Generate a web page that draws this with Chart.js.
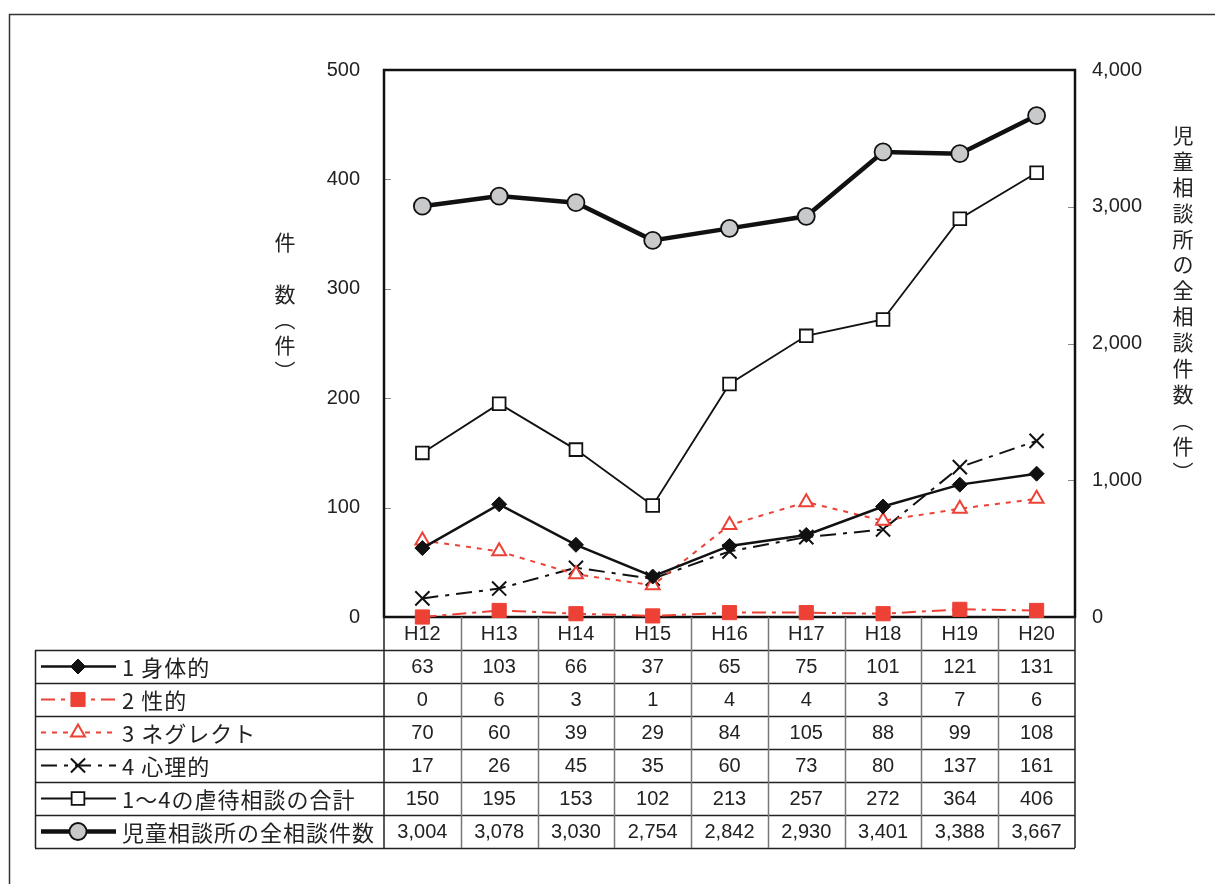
<!DOCTYPE html>
<html>
<head>
<meta charset="utf-8">
<script src="https://cdn.jsdelivr.net/npm/chart.js@4"></script>
<style>
  body { margin: 0; background: #fff; }
</style>
</head>
<body>
<canvas id="abuseChart" width="1215" height="884"></canvas>
<script>
const years = ['H12', 'H13', 'H14', 'H15', 'H16', 'H17', 'H18', 'H19', 'H20'];
const physical = [63, 103, 66, 37, 65, 75, 101, 121, 131];
const sexual = [0, 6, 3, 1, 4, 4, 3, 7, 6];
const neglect = [70, 60, 39, 29, 84, 105, 88, 99, 108];
const psychological = [17, 26, 45, 35, 60, 73, 80, 137, 161];
const abuseTotal = [150, 195, 153, 102, 213, 257, 272, 364, 406];
const allConsults = [3004, 3078, 3030, 2754, 2842, 2930, 3401, 3388, 3667];

const leftTicks = [0, 100, 200, 300, 400, 500];
const rightTicks = [0, 1000, 2000, 3000, 4000];
const leftTitle = ['件', '', '数', '︵', '件', '︶'];
const rightTitle = '児童相談所の全相談件数︵件︶';

const RED = '#ee4136';
const FONT = "'Liberation Sans', 'Noto Sans CJK JP', sans-serif";
const JP_FONT = "'Noto Sans CJK JP', 'Liberation Sans', sans-serif";

// frame, tick marks and titles drawn under the lines
const framePlugin = {
    id: 'frame',
    beforeDatasetsDraw(chart) {
        const { ctx, chartArea: a, scales } = chart;
        ctx.save();
        // outer border of the figure
        ctx.strokeStyle = '#333';
        ctx.lineWidth = 1.5;
        ctx.beginPath();
        ctx.moveTo(9.5, 884);
        ctx.lineTo(9.5, 14.5);
        ctx.lineTo(1215, 14.5);
        ctx.stroke();

        // small inner ticks
        ctx.strokeStyle = '#888';
        ctx.lineWidth = 1;
        leftTicks.forEach(v => {
            const y = Math.round(scales.y.getPixelForValue(v)) + 0.5;
            ctx.beginPath();
            ctx.moveTo(a.left, y);
            ctx.lineTo(a.left + 7, y);
            ctx.stroke();
        });
        rightTicks.forEach(v => {
            const y = Math.round(scales.y2.getPixelForValue(v)) + 0.5;
            ctx.beginPath();
            ctx.moveTo(a.right, y);
            ctx.lineTo(a.right - 7, y);
            ctx.stroke();
        });

        // plot border
        ctx.strokeStyle = '#111';
        ctx.lineWidth = 2.5;
        ctx.strokeRect(a.left, a.top, a.right - a.left, a.bottom - a.top);

        // vertical axis titles
        ctx.fillStyle = '#222';
        ctx.font = '21px ' + JP_FONT;
        ctx.textAlign = 'center';
        ctx.textBaseline = 'middle';
        leftTitle.forEach((ch, i) => ctx.fillText(ch, 285, 242 + i * 25.8));
        Array.from(rightTitle).forEach((ch, i) => ctx.fillText(ch, 1183, 135 + i * 25.9));
        ctx.restore();
    }
};

// data table below the plot, columns taken from the x scale
const tablePlugin = {
    id: 'dataTable',
    afterDraw(chart) {
        const { ctx, chartArea: a, scales: { x } } = chart;
        const rowH = 33;
        const headTop = a.bottom;
        const bodyTop = headTop + rowH;
        const sets = chart.data.datasets;
        const bodyBottom = bodyTop + rowH * sets.length;
        const tableLeft = 35;
        const colW = (a.right - a.left) / years.length;

        ctx.save();
        // horizontal rules
        ctx.strokeStyle = '#222';
        ctx.lineWidth = 1.5;
        for (let r = 0; r <= sets.length; r++) {
            const y = Math.round(bodyTop + r * rowH) + 0.5;
            ctx.beginPath();
            ctx.moveTo(tableLeft, y);
            ctx.lineTo(a.right, y);
            ctx.stroke();
        }
        // outer verticals
        ctx.beginPath();
        ctx.moveTo(tableLeft + 0.5, bodyTop);
        ctx.lineTo(tableLeft + 0.5, bodyBottom);
        ctx.moveTo(a.left, headTop);
        ctx.lineTo(a.left, bodyBottom);
        ctx.moveTo(a.right, headTop);
        ctx.lineTo(a.right, bodyBottom);
        ctx.stroke();
        // column separators
        ctx.strokeStyle = '#777';
        for (let i = 1; i < years.length; i++) {
            const xx = Math.round(a.left + i * colW) + 0.5;
            ctx.beginPath();
            ctx.moveTo(xx, headTop);
            ctx.lineTo(xx, bodyBottom);
            ctx.stroke();
        }

        // header labels
        ctx.fillStyle = '#222';
        ctx.font = '20px ' + FONT;
        ctx.textAlign = 'center';
        ctx.textBaseline = 'middle';
        years.forEach((label, i) => {
            ctx.fillText(label, x.getPixelForValue(i), headTop + rowH / 2 + 1);
        });

        // body rows
        sets.forEach((ds, r) => {
            const cy = bodyTop + r * rowH + rowH / 2 + 1;
            ctx.fillStyle = '#222';
            ctx.font = '20px ' + FONT;
            ctx.textAlign = 'center';
            ds.data.forEach((v, i) => {
                ctx.fillText(v.toLocaleString('en-US'), x.getPixelForValue(i), cy);
            });

            // legend sample: line then marker
            ctx.save();
            ctx.strokeStyle = ds.borderColor;
            ctx.lineWidth = ds.borderWidth;
            ctx.setLineDash(ds.borderDash || []);
            ctx.beginPath();
            ctx.moveTo(41, cy - 1);
            ctx.lineTo(116, cy - 1);
            ctx.stroke();
            ctx.setLineDash([]);
            ctx.fillStyle = ds.pointBackgroundColor;
            ctx.strokeStyle = ds.pointBorderColor;
            ctx.lineWidth = ds.pointBorderWidth;
            Chart.helpers.drawPoint(ctx, {
                pointStyle: ds.pointStyle,
                radius: ds.pointRadius,
                borderWidth: ds.pointBorderWidth,
                rotation: 0
            }, 78, cy - 1);
            ctx.restore();

            ctx.save();
            ctx.fillStyle = '#222';
            ctx.font = '22px ' + JP_FONT;
            ctx.letterSpacing = '1px';
            ctx.textAlign = 'left';
            ctx.fillText(ds.label, 122, cy);
            ctx.restore();
        });
        ctx.restore();
    }
};

const ctx = document.getElementById('abuseChart').getContext('2d');
const abuseChart = new Chart(ctx, {
    type: 'line',
    data: {
        labels: years,
        datasets: [{
            label: '1 身体的',
            data: physical,
            yAxisID: 'y',
            borderColor: '#111',
            borderWidth: 2.5,
            pointStyle: 'rectRot',
            pointRadius: 7.5,
            pointBackgroundColor: '#111',
            pointBorderColor: '#111',
            pointBorderWidth: 1
        }, {
            label: '2 性的',
            data: sexual,
            yAxisID: 'y',
            borderColor: RED,
            borderWidth: 2,
            borderDash: [14, 6, 4, 6],
            pointStyle: 'rect',
            pointRadius: 10,
            pointBackgroundColor: RED,
            pointBorderColor: RED,
            pointBorderWidth: 1
        }, {
            label: '3 ネグレクト',
            data: neglect,
            yAxisID: 'y',
            borderColor: RED,
            borderWidth: 2,
            borderDash: [5, 6],
            pointStyle: 'triangle',
            pointRadius: 8,
            pointBackgroundColor: '#fff',
            pointBorderColor: RED,
            pointBorderWidth: 2
        }, {
            label: '4 心理的',
            data: psychological,
            yAxisID: 'y',
            borderColor: '#111',
            borderWidth: 2,
            borderDash: [16, 7, 4, 7],
            pointStyle: 'crossRot',
            pointRadius: 10,
            pointBackgroundColor: '#111',
            pointBorderColor: '#111',
            pointBorderWidth: 2
        }, {
            label: '1～4の虐待相談の合計',
            data: abuseTotal,
            yAxisID: 'y',
            borderColor: '#111',
            borderWidth: 1.8,
            pointStyle: 'rect',
            pointRadius: 9,
            pointBackgroundColor: '#fff',
            pointBorderColor: '#111',
            pointBorderWidth: 1.8
        }, {
            label: '児童相談所の全相談件数',
            data: allConsults,
            yAxisID: 'y2',
            borderColor: '#111',
            borderWidth: 4.5,
            pointStyle: 'circle',
            pointRadius: 8.5,
            pointBackgroundColor: '#c8c9cb',
            pointBorderColor: '#111',
            pointBorderWidth: 1.8
        }].map(ds => Object.assign(ds, { tension: 0, clip: false, fill: false }))
    },
    options: {
        responsive: false,
        animation: false,
        layout: { padding: { top: 70, bottom: 267, left: 0, right: 0 } },
        plugins: {
            legend: { display: false },
            tooltip: { enabled: false }
        },
        scales: {
            x: {
                type: 'category',
                offset: true,
                display: false
            },
            y: {
                position: 'left',
                min: 0,
                max: 500,
                afterFit: s => { s.width = 384; },
                afterBuildTicks: s => { s.ticks = leftTicks.map(v => ({ value: v })); },
                grid: { display: false, drawTicks: false },
                border: { display: false },
                ticks: {
                    padding: 24,
                    color: '#222',
                    font: { family: FONT, size: 20 }
                }
            },
            y2: {
                position: 'right',
                min: 0,
                max: 4000,
                afterFit: s => { s.width = 140; },
                afterBuildTicks: s => { s.ticks = rightTicks.map(v => ({ value: v })); },
                grid: { display: false, drawTicks: false },
                border: { display: false },
                ticks: {
                    padding: 17,
                    color: '#222',
                    font: { family: FONT, size: 20 },
                    callback: v => v.toLocaleString('en-US')
                }
            }
        }
    },
    plugins: [framePlugin, tablePlugin]
});
</script>
</body>
</html>
